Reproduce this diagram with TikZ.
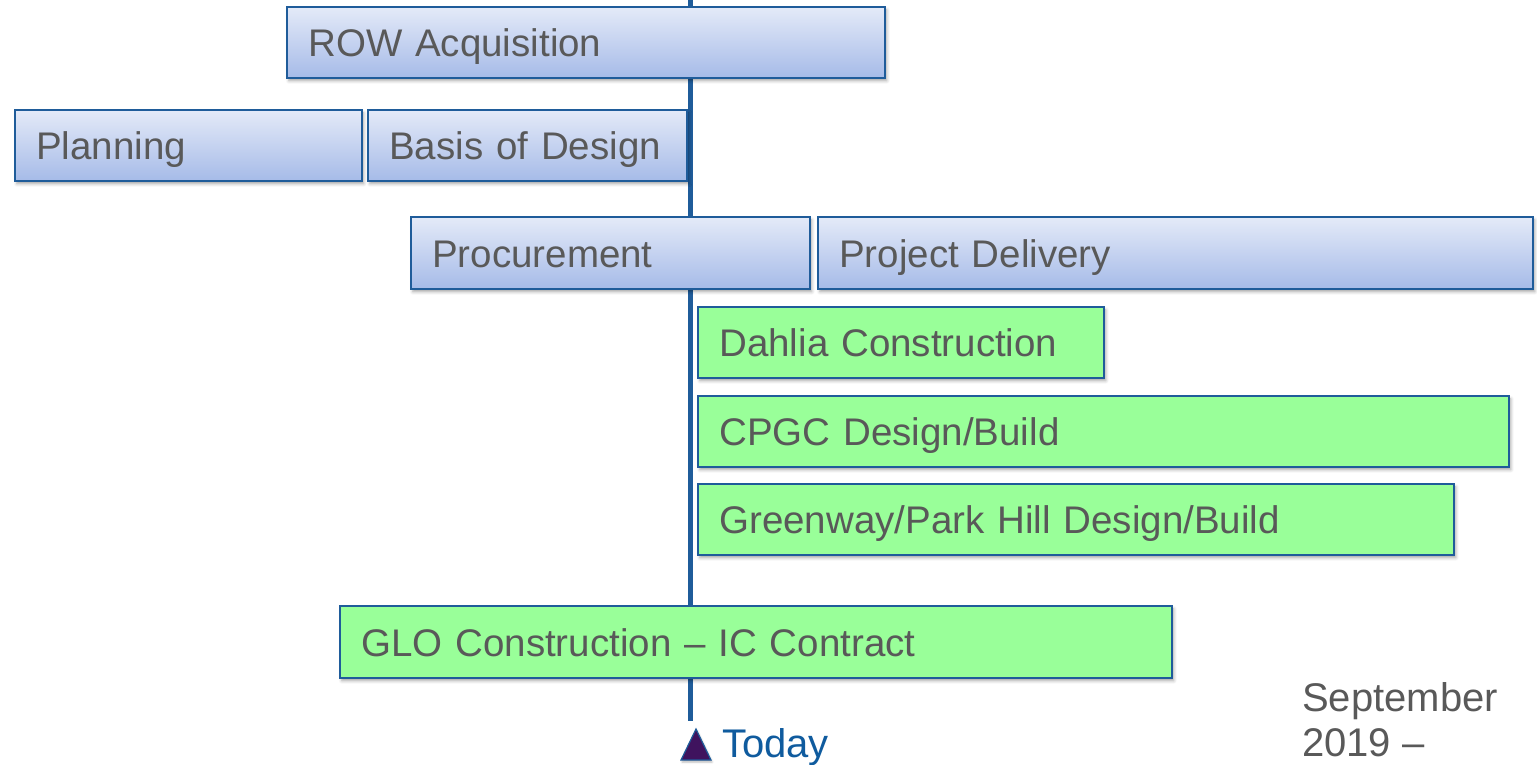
\documentclass[tikz,border=0pt]{standalone}
\usepackage{fontspec}
\setmainfont{Liberation Sans}
\usetikzlibrary{shadows.blur}
\definecolor{edge}{HTML}{1F5C9A}
\definecolor{bluetop}{HTML}{E4EAF8}
\definecolor{bluebot}{HTML}{A6BBE8}
\definecolor{greenfill}{HTML}{99FF99}
\definecolor{txtgray}{HTML}{595959}
\definecolor{todayblue}{HTML}{0F5B9E}
\definecolor{tri}{HTML}{3F135E}
\tikzset{
  bar/.style={draw=edge, line width=1.6pt, anchor=north west, inner sep=0pt,
    font=\fontsize{38.5}{42}\selectfont, text=txtgray, align=left,
    text height=29pt, text depth=0pt,
    blur shadow={shadow xshift=2pt, shadow yshift=-3pt, shadow blur radius=3pt, shadow opacity=35}},
  bluebar/.style={bar, top color=bluetop, bottom color=bluebot},
  greenbar/.style={bar, fill=greenfill},
}
\newcommand{\barnode}[7]{% style, name, x1, y1, x2, y2, text
  \pgfmathsetmacro{\bw}{#5-#3}\pgfmathsetmacro{\bh}{#6-#4}\pgfmathsetmacro{\tw}{#5-#3-43}
  \node[#1, minimum width=\bw pt, minimum height=\bh pt, text width=\tw pt] (#2) at (#3,#4) {#7};
}
\begin{document}
\begin{tikzpicture}[x=1pt,y=-1pt]
\useasboundingbox (0,0) rectangle (1537,764);
\coordinate (ltop) at (690,0);
\coordinate (lbot) at (690,721);
\draw[edge, line width=5pt] (ltop) -- (lbot);
\barnode{bluebar}{row}{286}{6}{884}{77}{ROW Acquisition}
\barnode{bluebar}{plan}{14}{109}{361}{180}{Planning}
\barnode{bluebar}{bod}{367}{109}{686}{180}{Basis of Design}
\barnode{bluebar}{proc}{410}{216}{809}{288}{Procurement}
\barnode{bluebar}{pd}{817}{216}{1532}{288}{Project Delivery}
\barnode{greenbar}{dahlia}{697}{306}{1103}{377}{Dahlia Construction}
\barnode{greenbar}{cpgc}{697}{395}{1508}{466}{CPGC Design/Build}
\barnode{greenbar}{green}{697}{483}{1453}{554}{Greenway/Park Hill Design/Build}
\barnode{greenbar}{glo}{339}{605}{1171}{677}{GLO Construction – IC Contract}
\draw[draw=edge, line width=1.2pt, fill=tri,
  blur shadow={shadow xshift=1pt, shadow yshift=-2pt, shadow blur radius=2pt, shadow opacity=30}]
  (681,760) -- (711,760) -- (696,729) -- cycle;
\node[anchor=base west, inner sep=0pt, text=todayblue, font=\fontsize{40}{44}\selectfont] (today) at (722,757) {Today};
\node[anchor=base west, inner sep=0pt, text=txtgray, font=\fontsize{40}{45}\selectfont, align=left] (date) at (1302,756) {September\\2019 –};
\end{tikzpicture}
\end{document}
